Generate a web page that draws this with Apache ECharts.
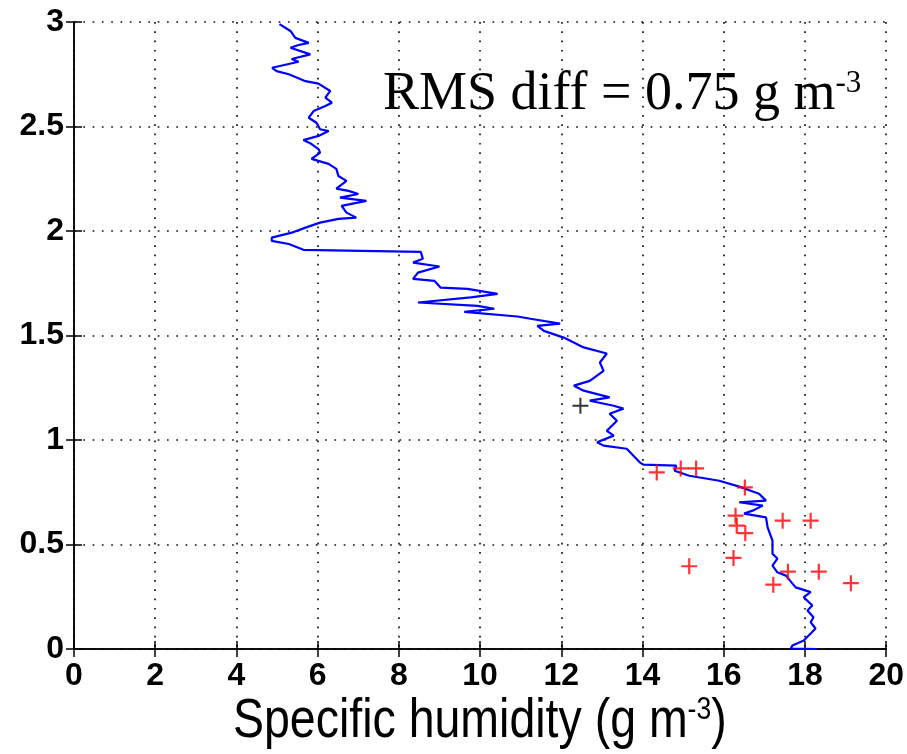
<!DOCTYPE html>
<html><head><meta charset="utf-8">
<script src="https://cdn.jsdelivr.net/npm/echarts@6/dist/echarts.min.js"></script>
<style>html,body{margin:0;padding:0;background:#fff}#c{width:907px;height:754px}</style>
</head><body><div id="c"></div>
<script>
// Profile: specific humidity (g m^-3) vs height (km)
const profileQ = [5.06,5.33,5.45,5.78,5.53,5.33,5.82,5.36,5.53,4.88,4.99,5.29,5.70,6.02,6.31,6.19,6.35,6.19,5.90,5.78,5.97,6.06,6.27,6.02,5.65,5.85,6.02,6.06,5.85,6.27,6.46,6.51,6.71,6.46,6.76,7.00,6.55,7.20,6.59,6.71,6.95,6.51,6.06,5.70,5.36,4.87,4.87,5.29,5.65,7.07,8.54,8.59,8.35,9.00,8.47,8.35,8.88,9.03,9.69,10.43,9.77,8.47,9.94,10.35,9.61,10.92,11.24,11.97,11.41,11.57,12.06,12.55,13.12,12.95,13.04,12.70,12.31,12.55,13.19,12.70,13.29,13.53,13.19,13.37,13.12,13.29,12.88,13.04,13.61,13.93,14.02,14.83,14.79,15.15,15.89,16.38,16.87,17.04,16.38,16.96,16.71,16.50,17.04,17.08,17.20,17.20,17.32,17.20,17.32,17.53,17.77,18.14,17.97,18.18,18.06,18.21,18.14,18.26,18.14,17.97,17.69,17.65,18.30];
const profileZ = [2.99,2.957,2.924,2.90,2.89,2.877,2.845,2.823,2.81,2.781,2.765,2.75,2.717,2.705,2.67,2.638,2.614,2.598,2.574,2.542,2.518,2.487,2.478,2.455,2.435,2.416,2.392,2.375,2.345,2.321,2.297,2.263,2.24,2.203,2.192,2.177,2.16,2.144,2.12,2.088,2.064,2.058,2.04,2.016,1.992,1.968,1.953,1.938,1.91,1.905,1.90,1.867,1.849,1.83,1.801,1.771,1.761,1.729,1.723,1.699,1.682,1.658,1.642,1.628,1.613,1.591,1.58,1.557,1.546,1.522,1.49,1.443,1.414,1.371,1.331,1.283,1.26,1.236,1.204,1.188,1.164,1.15,1.126,1.092,1.044,1.021,0.989,0.973,0.958,0.893,0.882,0.877,0.853,0.829,0.805,0.777,0.743,0.71,0.702,0.686,0.662,0.648,0.63,0.582,0.519,0.456,0.433,0.399,0.367,0.351,0.295,0.272,0.248,0.208,0.184,0.152,0.128,0.098,0.074,0.041,0.017,0.002,0.0];
// Red crosses
const obsQ = [14.35,14.94,15.32,16.52,16.29,16.32,16.53,17.45,18.14,16.24,15.15,17.58,18.34,17.22,19.13];
const obsZ = [0.845,0.864,0.864,0.773,0.638,0.590,0.554,0.614,0.614,0.436,0.396,0.370,0.370,0.308,0.315];
// Black cross
const refQ = [12.47];
const refZ = [1.164];
// Axes
const xMin = 0, xMax = 20, xStep = 2;
const yMin = 0, yMax = 3, yStep = 0.5;
const annotation = 'RMS diff = 0.75 g m';
const annotationSup = '-3';
const xTitle = 'Specific humidity (g m';
const xTitleSup = '-3';
const xTitleEnd = ')';

const zip = (a, b) => a.map((v, i) => [v, b[i]]);
const sans = '"Liberation Sans", Arial, sans-serif';
const serif = '"Liberation Serif", "Times New Roman", serif';
const cross = 'path://M10,0 L10,20 M0,10 L20,10';

const chart = echarts.init(document.getElementById('c'), null, {renderer: 'canvas'});
const baseAxis = {
  axisLine: {show: true, lineStyle: {color: '#000', width: 1.5}},
  axisTick: {show: true, inside: true, length: 8, lineStyle: {color: '#000', width: 1.5}},
};
const grid = {lineStyle: {color: '#111', width: 1.7, type: [1.7, 7.6]}};
chart.setOption({
  animation: false,
  backgroundColor: '#fff',
  grid: {left: 74, right: 16, top: 22, bottom: 105, containLabel: false},
  xAxis: [
    Object.assign({}, baseAxis, {
      type: 'value', min: xMin, max: xMax, interval: xStep, position: 'bottom',
      axisLabel: {color: '#000', fontFamily: sans, fontWeight: 'bold', fontSize: 32, margin: 11},
      splitLine: Object.assign({show: true}, grid)
    }),
    Object.assign({}, baseAxis, {
      type: 'value', min: xMin, max: xMax, interval: xStep, position: 'top',
      axisLabel: {show: false}, splitLine: {show: false}
    })
  ],
  yAxis: [
    Object.assign({}, baseAxis, {
      type: 'value', min: yMin, max: yMax, interval: yStep, position: 'left',
      axisLabel: {color: '#000', fontFamily: sans, fontWeight: 'bold', fontSize: 32, margin: 10},
      splitLine: Object.assign({show: true}, grid)
    }),
    Object.assign({}, baseAxis, {
      type: 'value', min: yMin, max: yMax, interval: yStep, position: 'right',
      axisLabel: {show: false}, splitLine: {show: false}
    })
  ],
  series: [
    {
      type: 'line', data: zip(profileQ, profileZ), showSymbol: false, symbol: 'none',
      lineStyle: {color: '#0000ff', width: 2.2}, z: 3
    },
    {
      type: 'scatter', data: zip(obsQ, obsZ), symbol: cross, symbolSize: 16,
      itemStyle: {color: 'rgba(0,0,0,0)', borderColor: '#ff0000', borderWidth: 2.2}, z: 4
    },
    {
      type: 'scatter', data: zip(refQ, refZ), symbol: cross, symbolSize: 16,
      itemStyle: {color: 'rgba(0,0,0,0)', borderColor: '#000', borderWidth: 2}, z: 4
    }
  ],
  graphic: [
    {
      type: 'text', x: 383, y: 68, z: 10,
      style: {
        text: '{m|' + annotation + '}{s|' + annotationSup + '}',
        rich: {
          m: {fontFamily: serif, fontSize: 54, lineHeight: 54, fill: '#000', color: '#000'},
          s: {fontFamily: serif, fontSize: 31, lineHeight: 46, verticalAlign: 'top', fill: '#000', color: '#000'}
        }
      }
    },
    {
      type: 'text', x: 233, y: 694, scaleX: 0.83, z: 10,
      style: {
        text: '{m|' + xTitle + '}{s|' + xTitleSup + '}{m|' + xTitleEnd + '}',
        rich: {
          m: {fontFamily: sans, fontSize: 56, lineHeight: 56, fill: '#000', color: '#000'},
          s: {fontFamily: sans, fontSize: 32, lineHeight: 24, verticalAlign: 'top', fill: '#000', color: '#000'}
        }
      }
    }
  ]
});
</script>
</body></html>
